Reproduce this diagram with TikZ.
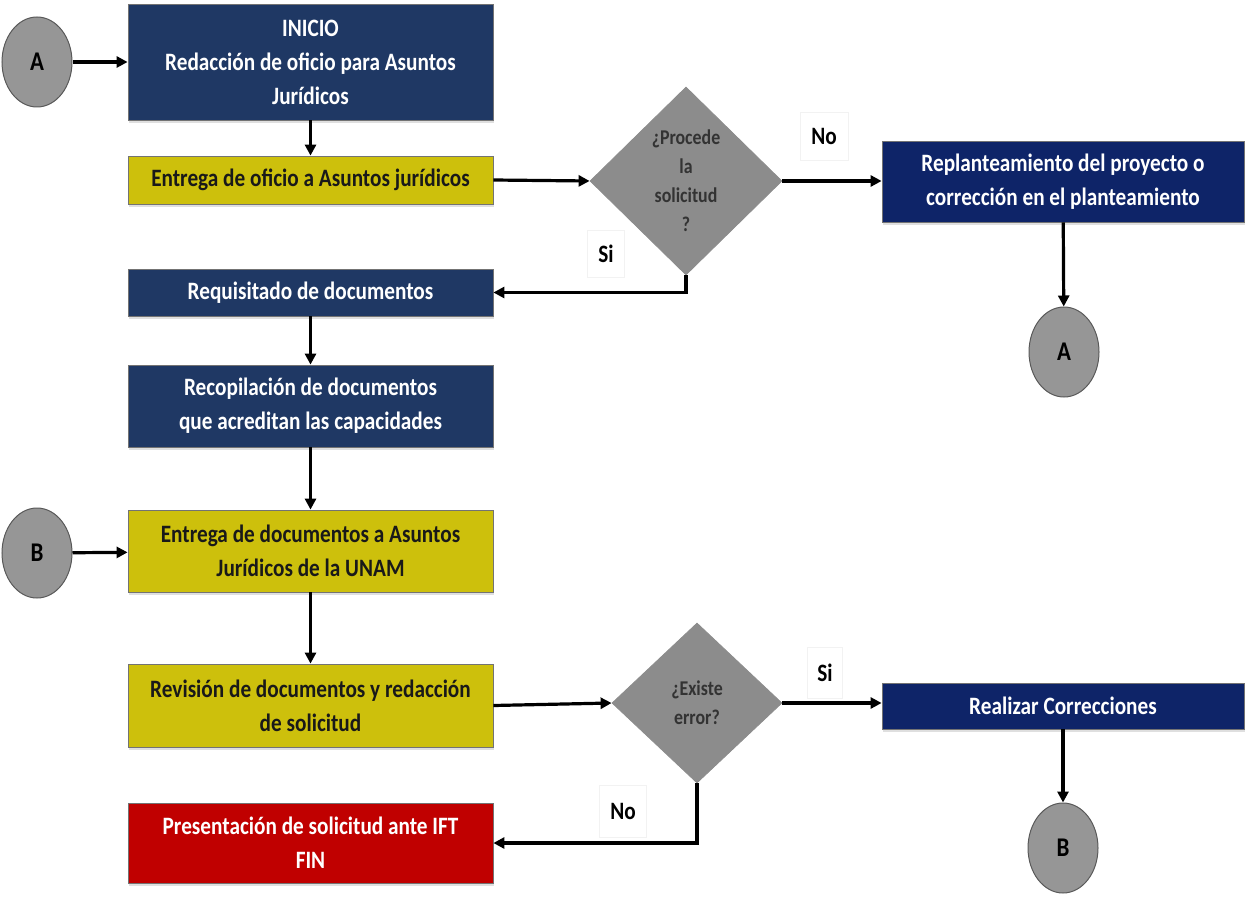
\documentclass[tikz,border=0pt]{standalone}
\usepackage{fontspec}
\setmainfont{Carlito}[FakeStretch=0.85]
\usetikzlibrary{shapes.geometric,arrows.meta,shadows}
\definecolor{navyL}{RGB}{31,56,100}
\definecolor{navyR}{RGB}{14,36,104}
\definecolor{ylw}{RGB}{205,192,12}
\definecolor{redbox}{RGB}{192,0,0}
\definecolor{dgray}{RGB}{140,140,140}
\definecolor{cgray}{RGB}{150,150,150}
\begin{document}
\begin{tikzpicture}[x=1pt,y=-1pt,
  every node/.style={font=\fontsize{25}{34}\selectfont\bfseries},
  boxbase/.style={rectangle,draw=black!55,line width=0.8pt,align=center,inner sep=2pt,
    drop shadow={shadow xshift=1pt,shadow yshift=-3pt,opacity=0.25}},
  bluebox/.style={boxbase,fill=navyL,text=white},
  bluebox2/.style={boxbase,fill=navyR,text=white},
  ylwbox/.style={boxbase,fill=ylw,text=black!90},
  redbx/.style={boxbase,fill=redbox,text=white},
  decision/.style={diamond,draw=black!45,line width=0.8pt,fill=dgray,text=black!80,align=center,inner sep=0pt,
    font=\fontsize{21}{29}\selectfont\bfseries},
  conn/.style={ellipse,draw=black!65,line width=1pt,fill=cgray,minimum width=70pt,minimum height=90pt,inner sep=0pt,
    font=\fontsize{27}{30}\selectfont\bfseries},
  lbl/.style={rectangle,draw=black!5,fill=white,inner sep=0pt,align=center},
  arr/.style={line width=3.2pt,-{Triangle[length=11pt,width=11pt]}},
]
\useasboundingbox (0,0) rectangle (1246,896);

% left column
\node[bluebox,minimum width=365pt,minimum height=116pt] (inicio) at (310.5,62)
  {INICIO\\Redacción de oficio para Asuntos\\Jurídicos};
\node[ylwbox,minimum width=365pt,minimum height=48pt] (ent1) at (310.5,180)
  {Entrega de oficio a Asuntos jurídicos};
\node[bluebox,minimum width=365pt,minimum height=47pt] (req) at (310.5,292.5)
  {Requisitado de documentos};
\node[bluebox,minimum width=365pt,minimum height=82pt] (recop) at (310.5,406)
  {Recopilación de documentos\\que acreditan las capacidades};
\node[ylwbox,minimum width=365pt,minimum height=82pt] (ent2) at (310.5,551)
  {Entrega de documentos a Asuntos\\Jurídicos de la UNAM};
\node[ylwbox,minimum width=365pt,minimum height=83pt] (rev) at (310.5,705.5)
  {Revisión de documentos y redacción\\de solicitud};
\node[redbx,minimum width=365pt,minimum height=80pt] (fin) at (310.5,843)
  {Presentación de solicitud ante IFT\\FIN};

% decisions
\node[decision,minimum width=192pt,minimum height=188pt] (d1) at (686,181)
  {¿Procede\\la\\solicitud\\?};
\node[decision,minimum width=170pt,minimum height=160pt] (d2) at (697,703)
  {¿Existe\\error?};

% right column
\node[bluebox2,minimum width=362pt,minimum height=81pt] (replan) at (1063,181.5)
  {Replanteamiento del proyecto o\\corrección en el planteamiento};
\node[bluebox2,minimum width=362pt,minimum height=46pt] (realiz) at (1063,706)
  {Realizar Correcciones};

% connectors circles
\node[conn] (cA1) at (37,62) {A};
\node[conn] (cB1) at (37,553) {B};
\node[conn] (cA2) at (1064,352) {A};
\node[conn] (cB2) at (1063,848) {B};

% labels
\node[lbl,minimum width=48pt,minimum height=48pt] (lNo1) at (824,136) {No};
\node[lbl,minimum width=37pt,minimum height=47pt] (lSi1) at (606,254) {Si};
\node[lbl,minimum width=35pt,minimum height=51pt] (lSi2) at (825,673) {Si};
\node[lbl,minimum width=47pt,minimum height=52pt] (lNo2) at (623,811) {No};

% arrows
\draw[arr] (cA1) -- (inicio);
\draw[arr] (inicio) -- (ent1);
\draw[arr] (ent1.east) -- (d1.west);
\draw[arr] (d1.east) -- (replan.west |- d1.east);
\draw[arr] (replan) -- (cA2);
\draw[arr] (d1.south) |- (req.east);
\draw[arr] (req) -- (recop);
\draw[arr] (recop) -- (ent2);
\draw[arr] (cB1) -- (ent2);
\draw[arr] (ent2) -- (rev);
\draw[arr] (rev.east) -- (d2.west);
\draw[arr] (d2.east) -- (realiz.west |- d2.east);
\draw[arr] (realiz) -- (cB2);
\draw[arr] (d2.south) |- (fin.east);
\end{tikzpicture}
\end{document}
